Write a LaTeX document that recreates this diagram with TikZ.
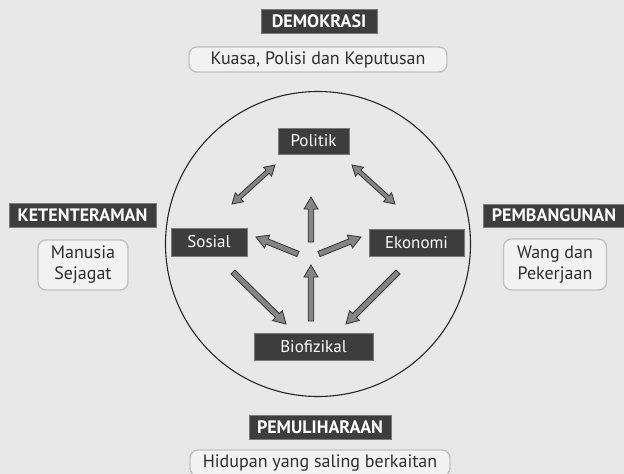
\documentclass[tikz,border=0pt]{standalone}
\usepackage{fontspec}
\setmainfont{PT Sans}
\usetikzlibrary{calc}
\definecolor{bgc}{HTML}{E8E8E8}
\definecolor{boxc}{HTML}{3D3D3D}
\definecolor{boxedge}{HTML}{7A7A7A}
\definecolor{pillfill}{HTML}{F2F2F2}
\definecolor{pilledge}{HTML}{C2C2C2}
\definecolor{arrfill}{HTML}{858585}
\definecolor{arredge}{HTML}{333333}
\definecolor{txt}{HTML}{2E2E2E}
\newcommand\blkarrow[5]{%
\draw[arrowsty] let \p1=(#1),\p2=(#2),\n1={atan2(\y2-\y1,\x2-\x1)},\n2={veclen(\x2-\x1,\y2-\y1)} in
([shift={(\p1)},rotate=\n1]0pt,#3) -- ([shift={(\p1)},rotate=\n1]{\n2-#5},#3) -- ([shift={(\p1)},rotate=\n1]{\n2-#5},#4) -- ([shift={(\p1)},rotate=\n1]{\n2+0pt},0pt) -- ([shift={(\p1)},rotate=\n1]{\n2-#5},-#4) -- ([shift={(\p1)},rotate=\n1]{\n2-#5},-#3) -- ([shift={(\p1)},rotate=\n1]0pt,-#3) -- cycle;}
\newcommand\dblkarrow[5]{%
\draw[arrowsty] let \p1=(#1),\p2=(#2),\n1={atan2(\y2-\y1,\x2-\x1)},\n2={veclen(\x2-\x1,\y2-\y1)} in
([shift={(\p1)},rotate=\n1]0pt,0pt) -- ([shift={(\p1)},rotate=\n1]#5,#4) -- ([shift={(\p1)},rotate=\n1]#5,#3) -- ([shift={(\p1)},rotate=\n1]{\n2-#5},#3) -- ([shift={(\p1)},rotate=\n1]{\n2-#5},#4) -- ([shift={(\p1)},rotate=\n1]{\n2+0pt},0pt) -- ([shift={(\p1)},rotate=\n1]{\n2-#5},-#4) -- ([shift={(\p1)},rotate=\n1]{\n2-#5},-#3) -- ([shift={(\p1)},rotate=\n1]#5,-#3) -- ([shift={(\p1)},rotate=\n1]#5,-#4) -- cycle;}
\begin{document}
\begin{tikzpicture}[x=1pt,y=-1pt,
  darkbox/.style={draw=boxedge,line width=0.8pt,fill=boxc,text=white,inner sep=0pt,font=\fontsize{17}{19}\selectfont},
  headbox/.style={draw=boxedge,line width=0.8pt,fill=boxc,text=white,inner sep=0pt,font=\bfseries\fontsize{18}{20}\selectfont},
  pill/.style={draw=pilledge,line width=1.4pt,fill=pillfill,rounded corners=8pt,text=txt,inner sep=0pt,align=center,font=\fontsize{18}{21}\selectfont},
  arrowsty/.style={draw=arredge,line width=0.8pt,fill=arrfill,line join=miter}]
\fill[bgc] (0,0) rectangle (624,474);
\useasboundingbox (0,0) rectangle (624,474);
% ring
\node[circle,draw=black!85,line width=1.1pt,minimum size=305pt,inner sep=0pt] (ring) at (318,244) {};
% headings and pills
\node[headbox,minimum width=116pt,minimum height=24pt] (dem) at (319,21) {DEMOKRASI};
\node[pill,minimum width=258pt,minimum height=25pt] (kuasa) at (318,59.5) {Kuasa, Polisi dan Keputusan};
\node[headbox,minimum width=147pt,minimum height=24pt] (ket) at (82.5,215) {KETENTERAMAN};
\node[pill,minimum width=90pt,minimum height=50pt] (man) at (83,265) {Manusia\\Sejagat};
\node[headbox,minimum width=142pt,minimum height=23pt] (pem) at (554,215.5) {PEMBANGUNAN};
\node[pill,minimum width=103pt,minimum height=51pt] (wang) at (555,264.5) {Wang dan\\Pekerjaan};
\node[headbox,minimum width=142pt,minimum height=24pt] (peml) at (320,427) {PEMULIHARAAN};
\node[pill,minimum width=260pt,minimum height=26pt] (hid) at (320,463) {Hidupan yang saling berkaitan};
% inner boxes
\node[darkbox,minimum width=71pt,minimum height=26pt] (pol) at (313.5,141) {Politik};
\node[darkbox,minimum width=76pt,minimum height=28pt] (sos) at (209,242) {Sosial};
\node[darkbox,minimum width=95pt,minimum height=27pt] (eko) at (416.5,243) {Ekonomi};
\node[darkbox,minimum width=119pt,minimum height=27pt] (bio) at (313.5,347) {Biofizikal};
% arrow end points
\coordinate (sp1) at (232,204); \coordinate (sp2) at (275,165);
\coordinate (pe1) at (352,165); \coordinate (pe2) at (395,204);
\coordinate (cu1) at (311,242); \coordinate (cu2) at (311,197);
\coordinate (cl1) at (298,254); \coordinate (cl2) at (256,237);
\coordinate (cr1) at (319,254); \coordinate (cr2) at (361,237);
\coordinate (bu1) at (311,321); \coordinate (bu2) at (311,265);
\coordinate (sb1) at (233,272); \coordinate (sb2) at (286,324);
\coordinate (eb1) at (398,272); \coordinate (eb2) at (346,324);
% arrows
\dblkarrow{sp1}{sp2}{2.2pt}{6pt}{10pt}
\dblkarrow{pe1}{pe2}{2.2pt}{6pt}{10pt}
\blkarrow{cu1}{cu2}{2.8pt}{7pt}{12pt}
\blkarrow{cl1}{cl2}{2.8pt}{7pt}{12pt}
\blkarrow{cr1}{cr2}{2.8pt}{7pt}{12pt}
\blkarrow{bu1}{bu2}{2.8pt}{7pt}{12pt}
\blkarrow{sb1}{sb2}{2.8pt}{7pt}{12pt}
\blkarrow{eb1}{eb2}{2.8pt}{7pt}{12pt}
\end{tikzpicture}
\end{document}
